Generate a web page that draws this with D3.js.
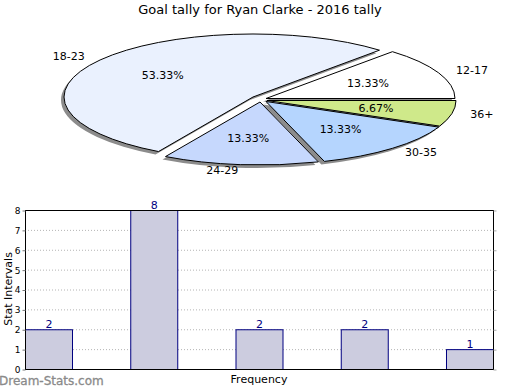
<!DOCTYPE html>
<html><head><meta charset="utf-8">
<script src="https://cdn.jsdelivr.net/npm/d3@7"></script>
<style>
body{margin:0;background:#fff;}
svg{display:block;font-family:"DejaVu Sans",sans-serif;}
</style></head>
<body><svg id="c" width="520" height="390"></svg>
<script>
const categories = ["12-17","18-23","24-29","30-35","36+"];
const values = [2, 8, 2, 2, 1];
const percentLabels = ["13.33%","53.33%","13.33%","13.33%","6.67%"];
const yTicks = [0,1,2,3,4,5,6,7,8];
const title = "Goal tally for Ryan Clarke - 2016 tally";

const svg = d3.select("#c");
const W = 520, H = 390;
svg.append("rect").attr("width",W).attr("height",H).attr("fill","#fff");

// title
svg.append("text").attr("x",260).attr("y",14).attr("text-anchor","middle")
  .attr("font-size",13).attr("fill","#000").text(title);

// ---- pie ----
const cx = 266, cy = 100, rx = 189, ry = 63;
const colors = {"12-17":"#ffffff","18-23":"#eaf1fe","24-29":"#c6d8fd","30-35":"#b5d5fe","36+":"#cfe98a"};
const offsets = {"12-17":[0,-1.5],"18-23":[-13,-3],"24-29":[-6,2],"30-35":[0,1.5],"36+":[1,0.5]};
const pie = d3.pie().sort(null).startAngle(Math.PI/2).endAngle(Math.PI/2 - 2*Math.PI);
const arcs = pie(values);
const arc = d3.arc().innerRadius(0).outerRadius(rx);
const k = ry/rx;
const pieData = arcs.map((a,i)=>({a, cat:categories[i], pct:percentLabels[i]}));

const gShadow = svg.append("g");
const gSlices = svg.append("g");
pieData.forEach(d=>{
  const [ox,oy] = offsets[d.cat];
  gShadow.append("path").attr("d",arc(d.a))
    .attr("transform",`translate(${cx+ox-3},${cy+oy+3}) scale(1,${k})`)
    .attr("fill","#8c8c8c");
});
pieData.forEach(d=>{
  const [ox,oy] = offsets[d.cat];
  gSlices.append("path").attr("d",arc(d.a))
    .attr("transform",`translate(${cx+ox},${cy+oy}) scale(1,${k})`)
    .attr("fill",colors[d.cat]).attr("stroke","#000").attr("stroke-width",1)
    .attr("vector-effect","non-scaling-stroke");
});
pieData.forEach(d=>{
  const [ox,oy] = offsets[d.cat];
  const th = Math.PI/2 - (d.a.startAngle + d.a.endAngle)/2;
  const c = Math.cos(th), s = Math.sin(th);
  svg.append("text").attr("x",cx+ox+rx*0.59*c).attr("y",cy+oy-ry*0.59*s)
    .attr("text-anchor","middle").attr("dominant-baseline","central")
    .attr("font-size",11).attr("fill","#000").text(d.pct);
  svg.append("text").attr("x",cx+ox+rx*1.1*c).attr("y",cy+oy-ry*1.1*s)
    .attr("text-anchor", c<0 ? "end" : "start").attr("dominant-baseline","central")
    .attr("font-size",11).attr("fill","#000").text(d.cat);
});

// ---- bar chart ----
const L = 25, R = 493, T = 210, B = 369;
const x = d3.scaleBand().domain(categories).range([L,R]).paddingInner(0.5534).paddingOuter(0);
const y = d3.scaleLinear().domain([0,8]).range([B,T]);

// grid
svg.append("g").selectAll("line").data(yTicks.filter(t=>t>0 && t<8)).join("line")
  .attr("x1",L).attr("x2",R).attr("y1",d=>y(d)+0.5).attr("y2",d=>y(d)+0.5)
  .attr("stroke","#b4b4b4").attr("stroke-dasharray","1,2");

// bars
svg.append("g").selectAll("rect").data(values).join("rect")
  .attr("x",(d,i)=>x(categories[i])+0.5).attr("y",d=>y(d)+0.5)
  .attr("width",x.bandwidth()).attr("height",d=>B-y(d))
  .attr("fill","#ccccdf").attr("stroke","#000080").attr("stroke-width",1);

// frame
svg.append("rect").attr("x",L+0.5).attr("y",T+0.5).attr("width",R-L).attr("height",B-T)
  .attr("fill","none").attr("stroke","#000").attr("stroke-width",1);

// left axis
const ya = d3.axisLeft(y).tickValues(yTicks).tickSize(3).tickFormat(d3.format("d"));
const gy = svg.append("g").attr("transform",`translate(${L+0.5},0.5)`).call(ya);
gy.select(".domain").remove();
gy.selectAll("text").attr("font-size",9).attr("font-family","DejaVu Sans").attr("fill","#000").attr("dx","1");
gy.selectAll("line").attr("stroke","#777");
// right ticks
const yr = d3.axisRight(y).tickValues(yTicks).tickSize(3).tickFormat("");
const gr = svg.append("g").attr("transform",`translate(${R+0.5},0.5)`).call(yr);
gr.select(".domain").remove();
gr.selectAll("line").attr("stroke","#aaa");

// value labels
svg.append("g").selectAll("text").data(values).join("text")
  .attr("x",(d,i)=>x(categories[i])+x.bandwidth()/2+0.5).attr("y",d=>y(d)-1)
  .attr("text-anchor","middle").attr("font-size",11).attr("fill","#000080").text(d=>d);

// axis titles
svg.append("text").attr("x",259).attr("y",383).attr("text-anchor","middle")
  .attr("font-size",11).attr("fill","#000").text("Frequency");
svg.append("text").attr("transform","translate(12,289) rotate(-90)").attr("text-anchor","middle")
  .attr("font-size",11).attr("fill","#000").text("Stat Intervals");

// watermark
svg.append("text").attr("x",-1).attr("y",385).attr("font-size",12)
  .attr("fill","#8a8a8a").attr("stroke","#8a8a8a").attr("stroke-width",0.3).text("Dream-Stats.com");
</script></body></html>
